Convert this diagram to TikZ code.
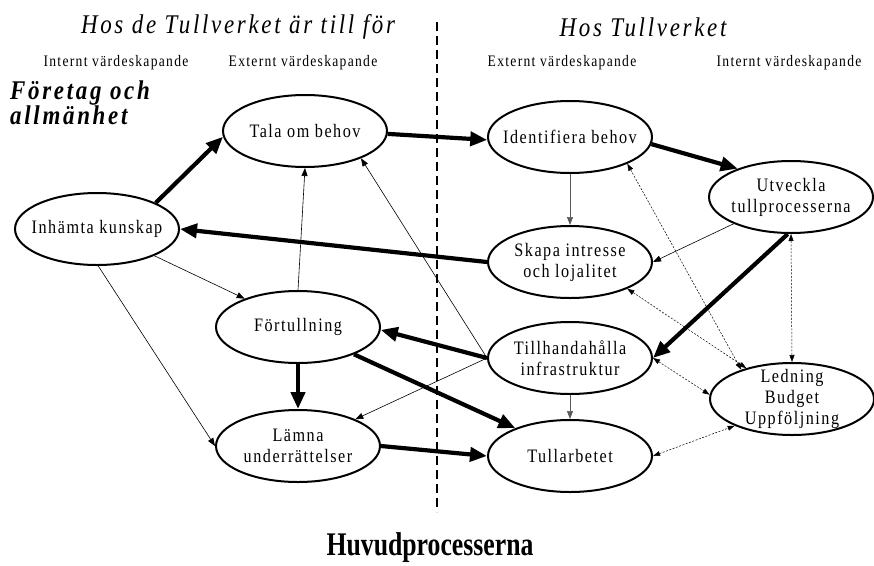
\documentclass[tikz,border=0pt]{standalone}
\usepackage{fontspec}
\setmainfont{Liberation Serif}[FakeStretch=0.78]
\newfontfamily\spacedfont{Liberation Serif}[FakeStretch=0.85, LetterSpace=8]
\newfontfamily\widefont{Liberation Serif}[FakeStretch=0.85, LetterSpace=10]
\usetikzlibrary{shapes.geometric, arrows.meta, positioning}

\begin{document}
\begin{tikzpicture}[x=1pt, y=-1pt,
  proc/.style={ellipse, draw, fill=white, line width=2pt,
    minimum width=164pt, minimum height=72pt, inner xsep=-60pt, inner ysep=-40pt,
    align=center, font=\spacedfont\fontsize{19}{21}\selectfont},
  strong/.style={line width=4.2pt, -{Triangle[length=17pt,width=14pt]}},
  weak/.style={line width=0.6pt, -{Triangle[length=8pt,width=6pt]}},
  link/.style={line width=0.5pt, dash pattern=on 2pt off 1.5pt,
    {Triangle[length=7pt,width=5pt]}-{Triangle[length=7pt,width=5pt]}},
  heading/.style={font=\widefont\itshape\fontsize{27}{30}\selectfont},
  column/.style={font=\spacedfont\fontsize{16}{18}\selectfont},
]
\useasboundingbox (0,0) rectangle (874,565);

% dividing line
\coordinate (divtop) at (437,22);
\coordinate (divbot) at (437,512);
\draw[line width=2.2pt, dash pattern=on 9pt off 5pt] (divtop) -- (divbot);

% headings
\node[heading] (hosde) at (238,27) {Hos de Tullverket är till för};
\node[heading] (hostv) at (643,27) {Hos Tullverket};
\node[column] (intl) at (116,63) {Internt värdeskapande};
\node[column] (extl) at (303,63) {Externt värdeskapande};
\node[column] (extr) at (562,63) {Externt värdeskapande};
\node[column] (intr) at (789,63) {Internt värdeskapande};
\node[anchor=north west, align=left, inner sep=0pt,
  font=\widefont\bfseries\itshape\fontsize{27}{25}\selectfont]
  (foretag) at (10,81) {Företag och\\allmänhet};

% processes
\node[proc] (inh) at (97,229) {Inhämta kunskap};
\node[proc] (tala) at (305,131) {Tala om behov};
\node[proc] (fort) at (298,327) {Förtullning};
\node[proc] (lamna) at (298,446) {Lämna\\underrättelser};
\node[proc] (ident) at (570,137) {Identifiera behov};
\node[proc] (skapa) at (570,262) {Skapa intresse\\och lojalitet};
\node[proc] (till) at (570,358) {Tillhandahålla\\infrastruktur};
\node[proc] (tull) at (570,456) {Tullarbetet};
\node[proc] (utv) at (791,197) {Utveckla\\tullprocesserna};
\node[proc] (led) at (792,399) {Ledning\\Budget\\Uppföljning};

% main flow
\draw[strong] (inh.24) -- (tala.184);
\draw[strong] (tala.358) -- (ident.182);
\draw[strong] (ident.355) -- (utv.152);
\draw[strong] (skapa.west) -- (inh.east);
\draw[strong] (utv.265) -- (till.east);
\draw[strong] (till.west) -- (fort.358);
\draw[strong] (fort.south) -- (lamna.north);
\draw[strong] (fort.334) -- (tull.153);
\draw[strong] (lamna.east) -- (tull.west);

% side flows
\draw[weak] (till.west) -- (tala.334);
\draw[weak] (fort.north) -- (tala.south);
\draw[weak] (inh.335) -- (fort.152);
\draw[weak] (inh.272) -- (lamna.west);
\draw[weak] (utv.205) -- (skapa.east);
\draw[weak] (till.west) -- (lamna.25);
\draw[weak, draw=black!65] (ident.south) -- (skapa.north);
\draw[weak, draw=black!65] (till.south) -- (tull.north);

% steering links
\draw[link] (ident.335) -- (led.150);
\draw[link] (skapa.335) -- (led.146);
\draw[link] (till.east) -- (led.177);
\draw[link] (tull.east) -- (led.205);
\draw[link] (utv.south) -- (led.north);

\node[font=\bfseries\fontsize{33}{36}\selectfont] (huvud) at (430,548) {Huvudprocesserna};
\end{tikzpicture}
\end{document}
